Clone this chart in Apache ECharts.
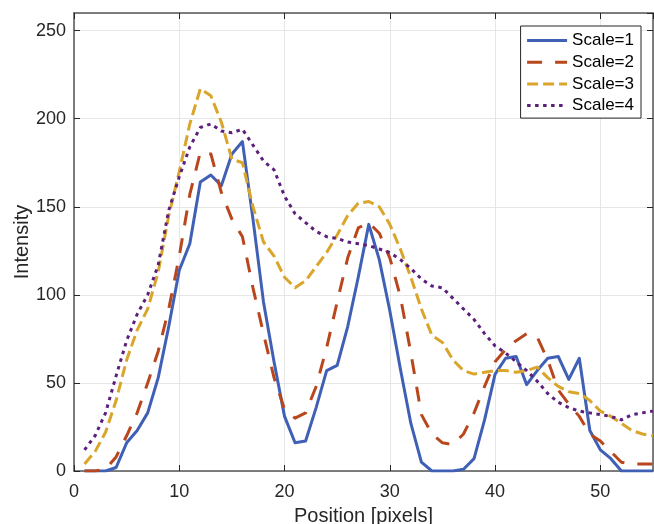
<!DOCTYPE html>
<html>
<head>
<meta charset="utf-8">
<script src="https://cdn.jsdelivr.net/npm/echarts@6/dist/echarts.min.js"></script>
<style>
    html, body { margin: 0; padding: 0; background: #fff; }
    #chart { width: 654px; height: 524px; }
</style>
</head>
<body>
<div id="chart"></div>
<script>
// positions along the profile
var positions = [1, 2, 3, 4, 5, 6, 7, 8, 9, 10, 11, 12, 13, 14, 15, 16, 17, 18, 19, 20,
    21, 22, 23, 24, 25, 26, 27, 28, 29, 30, 31, 32, 33, 34, 35, 36, 37, 38, 39, 40,
    41, 42, 43, 44, 45, 46, 47, 48, 49, 50, 51, 52, 53, 54, 55];

var scale1 = [0, 0, 0, 2, 16, 23, 33, 53, 82, 114,
    129, 164, 168, 162, 180, 187, 143, 96, 62, 31,
    16, 17, 36, 57, 60, 82, 110, 140, 120, 91,
    58, 27, 5, 0, 0, 0, 1, 7, 29, 55,
    64, 65, 49, 57, 64, 65, 52, 64, 23, 12,
    7, 0, 0, 0, 0];
var scale2 = [0, 0, 1, 8, 20, 33, 50, 68, 92, 122,
    157, 181, 180, 158, 143, 133, 104, 78, 53, 35,
    30, 33, 48, 70, 96, 121, 138, 141, 135, 121,
    99, 67, 32, 21, 16, 15, 21, 33, 48, 62,
    69, 74, 78, 76, 63, 46, 38, 31, 21, 17,
    11, 5, 4, 4, 4];
var scale3 = [4, 11, 22, 40, 63, 80, 92, 113, 145, 170,
    197, 217, 213, 198, 177, 175, 150, 130, 122, 110,
    104, 108, 116, 124, 134, 145, 152, 153, 150, 140,
    126, 110, 92, 77, 73, 63, 57, 55, 56, 57,
    57, 56, 57, 59, 53, 48, 45, 44, 40, 34,
    31, 27, 23, 21, 20];
var scale4 = [12, 20, 33, 54, 74, 89, 100, 117, 148, 167,
    184, 195, 197, 193, 192, 194, 185, 176, 171, 156,
    146, 141, 136, 133, 132, 130, 129, 128, 126, 124,
    120, 115, 109, 105, 104, 98, 92, 86, 78, 71,
    67, 62, 57, 51, 44, 39, 36, 34, 33, 32,
    31, 29, 32, 33, 34];

var seriesNames = ['Scale=1', 'Scale=2', 'Scale=3', 'Scale=4'];
var seriesValues = [scale1, scale2, scale3, scale4];
var colors = ['#3f60b5', '#b8471e', '#d9a52a', '#5c1f7c'];
var dashes = ['solid', [15, 13], [11, 5], [3.5, 4.5]];

var font = "'Liberation Sans', Arial, sans-serif";
var axisColor = '#555';

function pairs(values) {
    var out = [];
    for (var i = 0; i < positions.length; i++) {
        out.push([positions[i], values[i]]);
    }
    return out;
}

var myChart = echarts.init(document.getElementById('chart'));

var series = [];
for (var s = 0; s < seriesNames.length; s++) {
    series.push({
        name: seriesNames[s],
        type: 'line',
        data: pairs(seriesValues[s]),
        showSymbol: false,
        symbol: 'none',
        color: colors[s],
        lineStyle: {
            width: 3,
            color: colors[s],
            type: dashes[s],
            cap: 'butt',
            join: 'round'
        },
        xAxisIndex: 0,
        yAxisIndex: 0
    });
}

var option = {
    animation: false,
    backgroundColor: '#fff',
    textStyle: { fontFamily: font },
    grid: { left: 74, right: 1, top: 13, bottom: 53, containLabel: false, outerBoundsMode: 'none' },
    legend: {
        orient: 'vertical',
        right: 13,
        top: 26,
        padding: [6, 7, 4, 5],
        itemGap: 4.7,
        itemWidth: 40,
        itemHeight: 10,
        backgroundColor: '#fff',
        borderColor: '#262626',
        borderWidth: 1,
        borderRadius: 0,
        textStyle: { fontSize: 17, lineHeight: 17, color: '#000', fontFamily: font },
        itemStyle: { opacity: 0 },
        lineStyle: { width: 3 },
        data: seriesNames
    },
    xAxis: [
        {
            type: 'value',
            min: 0,
            max: 55,
            interval: 10,
            name: 'Position [pixels]',
            nameLocation: 'middle',
            nameGap: 35,
            nameTextStyle: { fontSize: 20, color: '#262626', fontFamily: font },
            axisLine: { show: true, lineStyle: { color: axisColor, width: 1.5 } },
            axisTick: { show: true, inside: true, length: 6, lineStyle: { color: '#262626' } },
            axisLabel: { fontSize: 18, color: '#262626', margin: 12, showMaxLabel: false, fontFamily: font },
            splitLine: { show: true, lineStyle: { color: '#e6e6e6', width: 1 } }
        },
        {
            type: 'value',
            position: 'top',
            min: 0,
            max: 55,
            interval: 10,
            axisLine: { show: true, onZero: false, lineStyle: { color: axisColor, width: 1.5 } },
            axisTick: { show: true, inside: true, length: 6, lineStyle: { color: '#262626' } },
            axisLabel: { show: false },
            splitLine: { show: false }
        }
    ],
    yAxis: [
        {
            type: 'value',
            min: 0,
            max: 260,
            interval: 50,
            name: 'Intensity',
            nameLocation: 'middle',
            nameGap: 42,
            nameMoveOverlap: false,
            nameTextStyle: { fontSize: 20, color: '#262626', fontFamily: font },
            axisLine: { show: true, onZero: false, lineStyle: { color: axisColor, width: 1.5 } },
            axisTick: { show: true, inside: true, length: 6, lineStyle: { color: '#262626' } },
            axisLabel: { fontSize: 18, color: '#262626', margin: 8, showMaxLabel: false, fontFamily: font },
            splitLine: { show: true, lineStyle: { color: '#e6e6e6', width: 1 } }
        },
        {
            type: 'value',
            position: 'right',
            min: 0,
            max: 260,
            interval: 50,
            axisLine: { show: true, onZero: false, lineStyle: { color: axisColor, width: 1.5 } },
            axisTick: { show: true, inside: true, length: 6, lineStyle: { color: '#262626' } },
            axisLabel: { show: false },
            splitLine: { show: false }
        }
    ],
    series: series
};

myChart.setOption(option);
</script>
</body>
</html>
